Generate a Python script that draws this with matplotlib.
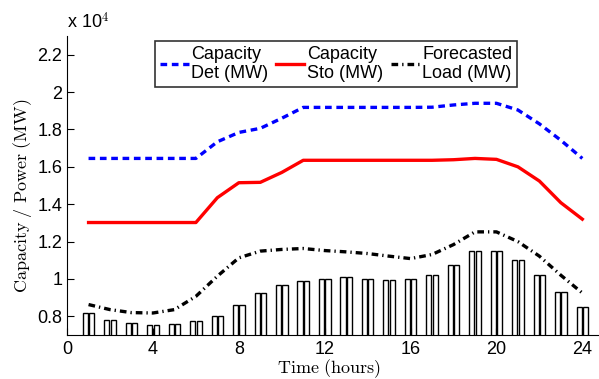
import numpy as np
import matplotlib
matplotlib.use("Agg")
import matplotlib.pyplot as plt

# hourly data (MW)
hours = np.arange(1, 25)
load_bars = [8180, 7820, 7640, 7550, 7590, 7730, 8000, 8590, 9230, 9680, 9880, 10020,
             10090, 10020, 9950, 9980, 10200, 10730, 11490, 11490, 11020, 10200, 9290, 8500]
cap_det = [16450, 16450, 16450, 16450, 16450, 16450, 17340, 17840, 18060, 18600, 19180, 19180,
           19180, 19180, 19180, 19180, 19190, 19310, 19400, 19400, 19040, 18300, 17420, 16450]
cap_sto = [13020, 13020, 13020, 13020, 13020, 13020, 14350, 15150, 15170, 15700, 16350, 16350,
           16350, 16350, 16350, 16350, 16350, 16380, 16450, 16400, 16000, 15240, 14080, 13200]
forecast = [8630, 8360, 8200, 8180, 8360, 9070, 10150, 11130, 11490, 11580, 11630, 11520,
            11450, 11360, 11220, 11090, 11310, 11840, 12520, 12520, 12000, 11220, 10200, 9250]

xticks = [0, 4, 8, 12, 16, 20, 24]
yticks = [8000, 10000, 12000, 14000, 16000, 18000, 20000, 22000]
ytick_labels = ['0.8', '1', '1.2', '1.4', '1.6', '1.8', '2', '2.2']

plt.rcParams['font.family'] = ['Liberation Sans', 'DejaVu Sans']
plt.rcParams['mathtext.fontset'] = 'cm'

fig = plt.figure(figsize=(5.99, 3.79), dpi=100)
ax = fig.add_axes([0.112, 0.116, 0.896, 0.789])

# bars drawn as two narrow halves per hour
w = 0.24
ax.bar(hours - 0.15, load_bars, width=w, color='white', edgecolor='black', linewidth=1.0, zorder=1)
ax.bar(hours + 0.15, load_bars, width=w, color='white', edgecolor='black', linewidth=1.0, zorder=1)

ax.plot(hours, cap_det, color='#0000ff', lw=2.4, linestyle=(0, (2.0, 1.4)),
        label='Capacity\nDet (MW)', zorder=3)
ax.plot(hours, cap_sto, color='#ff0000', lw=2.4, label='Capacity\nSto (MW)', zorder=3)
ax.plot(hours, forecast, color='black', lw=2.4, linestyle=(0, (2.0, 1.2, 0.4, 1.2)),
        label='Forecasted\nLoad (MW)', zorder=3)

ax.set_xlim(0, 25)
ax.set_ylim(7000, 23000)
ax.set_xticks(xticks)
ax.set_yticks(yticks)
ax.set_yticklabels(ytick_labels)
ax.tick_params(direction='in', length=5, labelsize=13, width=0.8)
ax.tick_params(axis='x', pad=4)
ax.spines['top'].set_visible(False)
ax.spines['right'].set_visible(False)

ax.text(0.0, 1.012, r'x 10$^4$', transform=ax.transAxes, fontsize=13,
        ha='left', va='bottom')

ax.set_xlabel(r'$\mathrm{Time\ (hours)}$', fontsize=13, labelpad=0)
ax.xaxis.label.set_x(0.487)
ax.set_ylabel(r'$\mathrm{Capacity\ /\ Power\ (MW)}$', fontsize=13, labelpad=2)
ax.yaxis.label.set_y(0.465)

leg = ax.legend(loc='upper left', bbox_to_anchor=(0.164, 0.983), ncol=3, fontsize=13,
                frameon=True, fancybox=False, edgecolor='black', handlelength=1.6,
                handletextpad=0.15, columnspacing=0.4, borderpad=0.25, labelspacing=0.1,
                borderaxespad=0)
leg.get_frame().set_linewidth(1.2)

fig.savefig('out.png', dpi=100)
